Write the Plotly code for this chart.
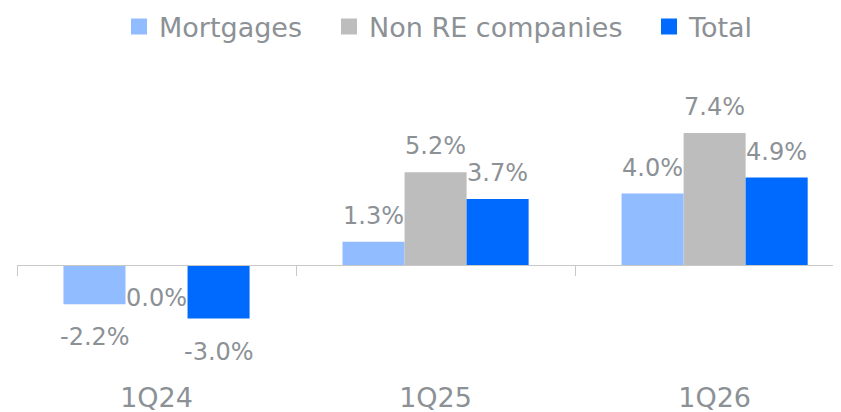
import plotly.graph_objects as go

categories = ["1Q24", "1Q25", "1Q26"]
mortgages = [-2.2, 1.3, 4.0]
non_re = [0.0, 5.2, 7.4]
total = [-3.0, 3.7, 4.9]

series = [
    ("Mortgages", mortgages, "#91BCFF"),
    ("Non RE companies", non_re, "#BDBDBD"),
    ("Total", total, "#006AFF"),
]

FONT = "DejaVu Sans"
TXT = "#8C9196"
W, H = 833, 404
legend_ids = ["legend", "legend2", "legend3"]
legend_sq_px = [131, 341, 661]

fig = go.Figure()
for name, vals, col in series:
    fig.add_trace(go.Bar(x=categories, y=vals, name=name, marker_color=col,
                         marker_line_width=0, showlegend=False))
for (name, vals, col), lid in zip(series, legend_ids):
    fig.add_trace(go.Scatter(x=[None], y=[None], mode="markers", name=name,
                             marker=dict(symbol="square", size=18, color=col),
                             legend=lid, showlegend=True))

bar_px = 62
annotations = []
for j, (name, vals, col) in enumerate(series):
    for c, v in zip(categories, vals):
        pos = v > 0
        annotations.append(dict(
            x=c, y=v, xref="x", yref="y", text=f"{v:.1f}%", showarrow=False,
            xshift=(j - 1) * bar_px, yshift=10 if pos else -17,
            yanchor="bottom" if pos else "top",
            font=dict(family=FONT, size=24, color=TXT)))

legends = {}
for lid, px in zip(legend_ids, legend_sq_px):
    legends[lid] = dict(orientation="h", xref="container", yref="container",
                        x=(px - 20) / W, xanchor="left", y=1 - 19 / H, yanchor="middle",
                        font=dict(family=FONT, size=27, color=TXT), itemwidth=30,
                        bgcolor="rgba(0,0,0,0)", borderwidth=0)

fig.update_layout(
    width=W, height=H,
    margin=dict(l=9, r=5, t=52, b=20, autoexpand=False),
    paper_bgcolor="white", plot_bgcolor="white",
    barmode="group", bargap=0.333, bargroupgap=0,
    font=dict(family=FONT, color=TXT),
    xaxis=dict(range=[-0.5, 2.435], anchor="free", position=0.3825, automargin=False,
               showline=True, linecolor="#C8C8C8", linewidth=1,
               ticks="outside", tickson="boundaries", ticklen=10, tickcolor="#C8C8C8",
               ticklabelstandoff=109, tickfont=dict(family=FONT, size=27, color=TXT),
               showgrid=False, zeroline=False),
    yaxis=dict(range=[-7.12, 11.49], visible=False, showgrid=False, zeroline=False,
               automargin=False),
    annotations=annotations,
    **legends,
)

fig.write_html("out.html")
